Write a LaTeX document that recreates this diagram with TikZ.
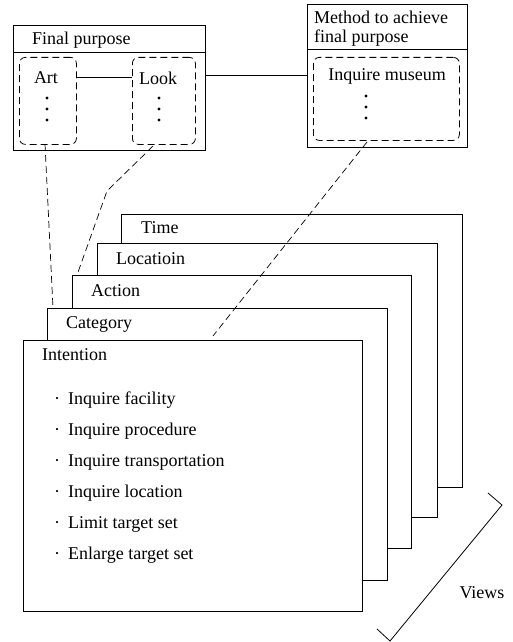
\documentclass[tikz,border=0pt]{standalone}
\usepackage{fontspec}
\setmainfont{Liberation Serif}
\usetikzlibrary{calc}
\begin{document}
\begin{tikzpicture}[x=1pt,y=-1pt,
  every node/.style={font=\fontsize{18}{18}\selectfont, inner sep=0pt},
  frame/.style={draw, line width=0.8pt, fill=white},
  dbox/.style={draw, line width=0.8pt, dash pattern=on 7pt off 4pt, rounded corners=6pt},
  dline/.style={line width=0.7pt, dash pattern=on 7pt off 4pt},
  sline/.style={line width=0.8pt},
  dotmark/.style={fill=black, circle, minimum size=3pt, inner sep=0pt}
]
\useasboundingbox (0,0) rectangle (513,642);

% ---- Final purpose box
\draw[frame] (13,25) rectangle (205,150);
\draw[sline] (13,52) -- (205,52);
\node[anchor=base west] (fp) at (32,45) {Final purpose};
\node[dbox, minimum width=57pt, minimum height=87pt, anchor=north west] (art) at (19,57) {};
\node[dbox, minimum width=63pt, minimum height=87pt, anchor=north west] (look) at (132,57) {};
\node (artt) at (46,78) {Art};
\node (lookt) at (158,78) {Look};
\foreach \y in {98,109,120} {\fill (47,\y) circle (1.6); \fill (159,\y) circle (1.6);}
\draw[sline] (art.east |- 0,77) -- (look.west |- 0,77);

% ---- Method box
\draw[frame] (307,4) rectangle (467,147);
\draw[sline] (307,49) -- (467,49);
\node[anchor=base west, align=left] (mt) at (314,24) {Method to achieve};
\node[anchor=base west, align=left] (mt2) at (314,42) {final purpose};
\node[dbox, minimum width=146pt, minimum height=83pt, anchor=north west] (museum) at (313,57) {};
\node (mus) at (387,76) {Inquire museum};
\foreach \y in {96,107,118} {\fill (366,\y) circle (1.6);}
\coordinate (fpR) at (205,75);
\coordinate (mL) at (307,75);
\draw[sline] (fpR) -- (mL);

% ---- stacked view boxes
\node[frame, anchor=north west, minimum width=341pt, minimum height=273pt] (time) at (121,214) {};
\node[anchor=base west] (timet) at (141,233) {Time};
\node[frame, anchor=north west, minimum width=340pt, minimum height=274pt] (loc) at (97,243) {};
\node[anchor=base west] (loct) at (116,264) {Locatioin};
\node[frame, anchor=north west, minimum width=339pt, minimum height=273pt] (action) at (72,275) {};
\node[anchor=base west] (actt) at (91,296) {Action};
\node[frame, anchor=north west, minimum width=340pt, minimum height=272pt] (cat) at (47,308) {};
\node[anchor=base west] (catt) at (66,328) {Category};
\node[frame, anchor=north west, minimum width=339pt, minimum height=271pt] (intent) at (23,340) {};
\node[anchor=base west] (intt) at (42,360) {Intention};

\node[anchor=base west] (i1) at (54,404) {\makebox[14pt][l]{·}Inquire facility};
\node[anchor=base west] (i2) at (54,435) {\makebox[14pt][l]{·}Inquire procedure};
\node[anchor=base west] (i3) at (54,466) {\makebox[14pt][l]{·}Inquire transportation};
\node[anchor=base west] (i4) at (54,497) {\makebox[14pt][l]{·}Inquire location};
\node[anchor=base west] (i5) at (54,528) {\makebox[14pt][l]{·}Limit target set};
\node[anchor=base west] (i6) at (54,559) {\makebox[14pt][l]{·}Enlarge target set};

% ---- dashed connectors
\coordinate (artS) at (45,144);
\coordinate (catN) at (53,308);
\draw[dline] (artS) -- (catN);
\coordinate (lookS) at (153,146);
\coordinate (bend) at (107,191);
\coordinate (actN) at (77,275);
\draw[dline] (lookS) -- (bend) -- (actN);
\coordinate (musS) at (367,142);
\coordinate (catP) at (213,336);
\draw[dline] (musS) -- (catP);

% ---- Views bracket
\coordinate (v1) at (488,493);
\coordinate (v2) at (502,505);
\coordinate (v3) at (390,641);
\coordinate (v4) at (377,629);
\draw[sline] (v1) -- (v2) -- (v3) -- (v4);
\node (views) at (482,593) {Views};
\end{tikzpicture}
\end{document}
